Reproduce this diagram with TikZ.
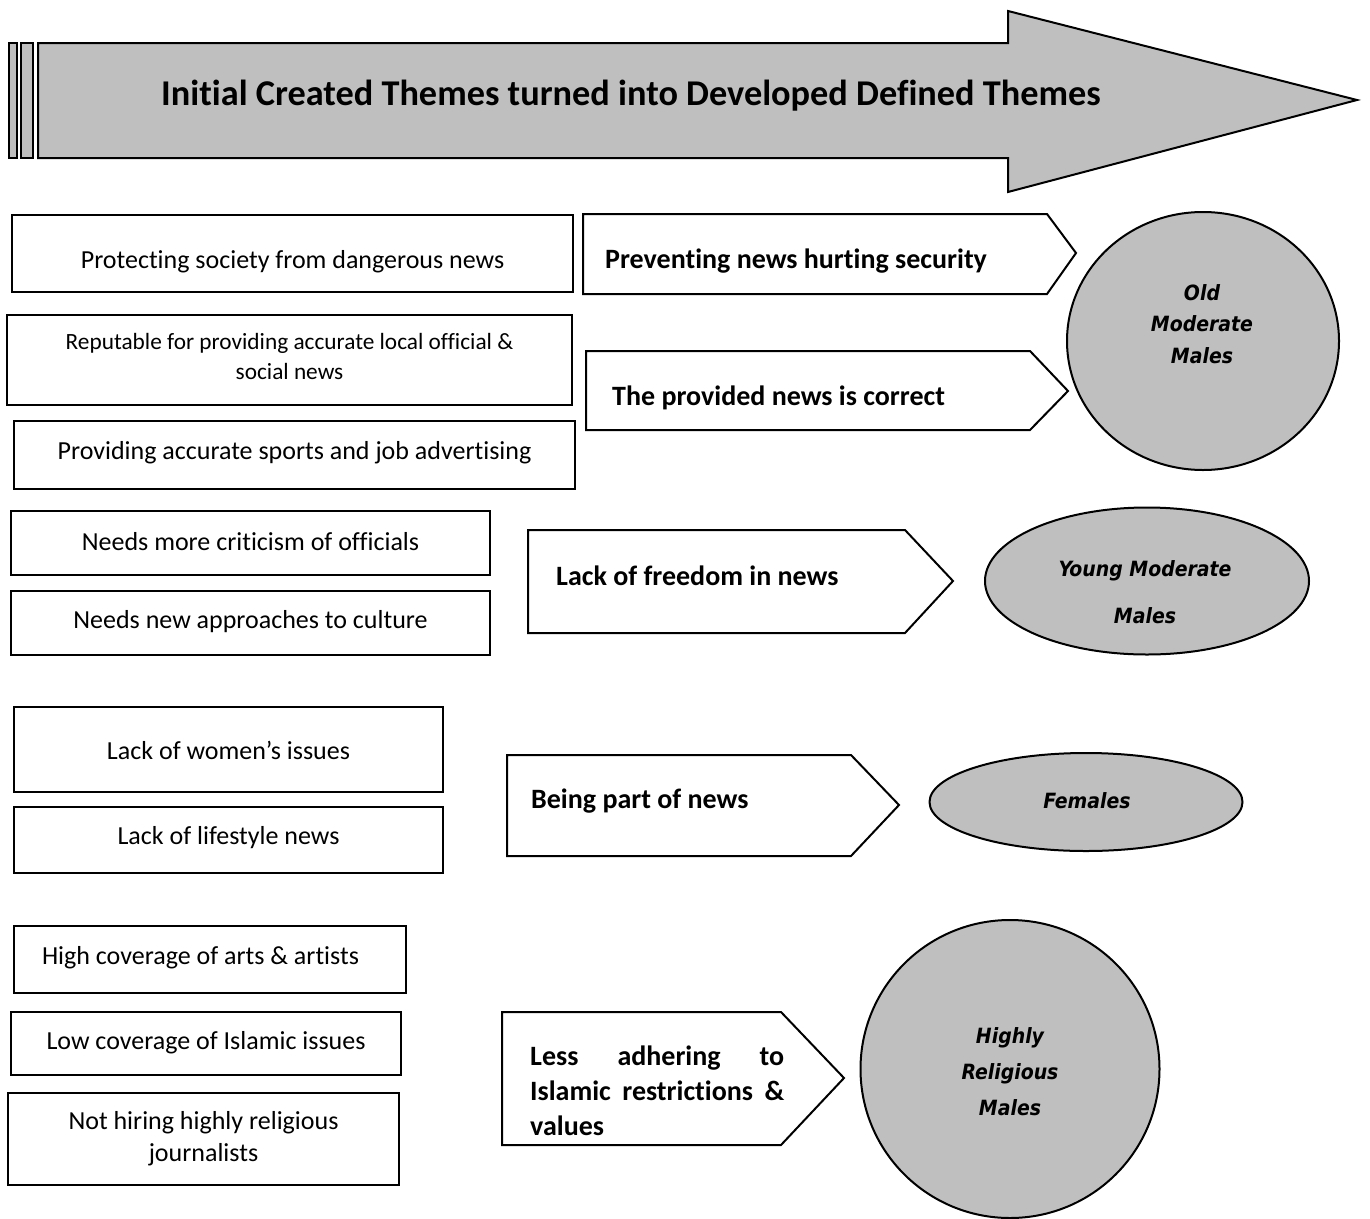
\documentclass[tikz,border=0pt]{standalone}
\usepackage{fontspec}
\setmainfont{Carlito}[RawFeature=-liga]
\newfontfamily\efont{DejaVu Sans Condensed}
\usetikzlibrary{shapes.geometric}
\definecolor{shade}{HTML}{BFBFBF}
\newcommand{\shiftup}[2]{\raisebox{#1}[\height][\depth]{#2}}
\tikzset{
  frame/.style={draw=black, line width=2pt},
  box/.style={frame, rectangle, inner sep=0pt, align=center, font=\fontsize{26}{32}\selectfont},
  arrowbox/.style={draw=black, line width=2pt, fill=white, line join=miter},
  atext/.style={anchor=west, inner sep=0pt, align=left, font=\fontsize{28}{35}\selectfont\bfseries},
  oval/.style={ellipse, draw=black, line width=2pt, fill=shade, inner sep=0pt},
  etext/.style={inner sep=0pt, align=center},
}
\begin{document}
\begin{tikzpicture}[x=1pt,y=-1pt]
\useasboundingbox (0,0) rectangle (1370,1218);

% big header arrow
\draw[frame, fill=shade] (9,43) rectangle (17,158);
\draw[frame, fill=shade] (21,43) rectangle (33,158);
\draw[frame, fill=shade, line join=miter] (38,43) -- (1008,43) -- (1008,11) -- (1357,100) -- (1008,192) -- (1008,158) -- (38,158) -- cycle;
\node[inner sep=0pt, font=\fontsize{36.3}{40}\selectfont\bfseries] (title) at (631,96) {Initial Created Themes turned into Developed Defined Themes};

% left boxes
\node[box, minimum width=561, minimum height=77] (a) at (292.5,253.5) {\shiftup{-8pt}{Protecting society from dangerous news}};
\node[box, minimum width=565, minimum height=90, font=\fontsize{23.3}{30}\selectfont] (b) at (289.5,360) {\shiftup{1.5pt}{\begin{tabular}{@{}c@{}}Reputable for providing accurate local official \&\\[-0.5pt]social news\end{tabular}}};
\node[box, minimum width=561, minimum height=68] (c) at (294.5,455) {\shiftup{2pt}{Providing accurate sports and job advertising}};
\node[box, minimum width=479, minimum height=64] (d) at (250.5,543) {\shiftup{1pt}{Needs more criticism of officials}};
\node[box, minimum width=479, minimum height=64] (e) at (250.5,623) {\shiftup{1pt}{Needs new approaches to culture}};
\node[box, minimum width=429, minimum height=85] (f) at (228.5,749.5) {\shiftup{-1pt}{Lack of women’s issues}};
\node[box, minimum width=429, minimum height=66] (g) at (228.5,840) {\shiftup{2pt}{Lack of lifestyle news}};
\node[box, minimum width=392, minimum height=67] (h) at (210,959.5) {\makebox[336pt][l]{\shiftup{2pt}{High coverage of arts \& artists}}};
\node[box, minimum width=390, minimum height=63] (i) at (206,1043.5) {\shiftup{1pt}{Low coverage of Islamic issues}};
\node[box, minimum width=391, minimum height=92] (j) at (203.5,1139) {Not hiring highly religious\\journalists};

% arrow boxes
\draw[arrowbox] (583,214) -- (1047,214) -- (1076,253) -- (1047,294) -- (583,294) -- cycle;
\node[atext] (t1) at (605,261) {Preventing news hurting security};
\draw[arrowbox] (586,351) -- (1030,351) -- (1068,391) -- (1030,430) -- (586,430) -- cycle;
\node[atext] (t2) at (612,398) {The provided news is correct};
\draw[arrowbox] (528,530) -- (905,530) -- (953,581) -- (905,633) -- (528,633) -- cycle;
\node[atext] (t3) at (556,576) {Lack of freedom in news};
\draw[arrowbox] (507,755) -- (851,755) -- (899,805) -- (851,856) -- (507,856) -- cycle;
\node[atext] (t4) at (531,801) {Being part of news};
\draw[arrowbox] (502,1012) -- (781,1012) -- (844,1078) -- (781,1145) -- (502,1145) -- cycle;
\node[atext] (t5) at (530,1091) {\hbox to 254pt{Less\hfill adhering\hfill to}\\\hbox to 254pt{Islamic\hfill restrictions\hfill\&}\\values};

% ellipses
\node[oval, minimum width=272, minimum height=258] (e1) at (1203,341) {};
\node[etext, font=\efont\bfseries\itshape\fontsize{21}{31.5}\selectfont] (e1t) at (1202,324) {Old\\Moderate\\Males};
\node[oval, minimum width=324, minimum height=147] (e2) at (1147,581) {};
\node[etext, font=\efont\bfseries\itshape\fontsize{21}{47}\selectfont] (e2t) at (1145,592) {Young Moderate\\Males};
\node[oval, minimum width=313, minimum height=98] (e3) at (1086,802) {};
\node[etext, font=\efont\bfseries\itshape\fontsize{21}{26}\selectfont] (e3t) at (1087,801) {Females};
\node[oval, minimum width=299, minimum height=298] (e4) at (1010,1069) {};
\node[etext, font=\efont\bfseries\itshape\fontsize{21}{36}\selectfont] (e4t) at (1010,1072) {Highly\\Religious\\Males};
\end{tikzpicture}
\end{document}
